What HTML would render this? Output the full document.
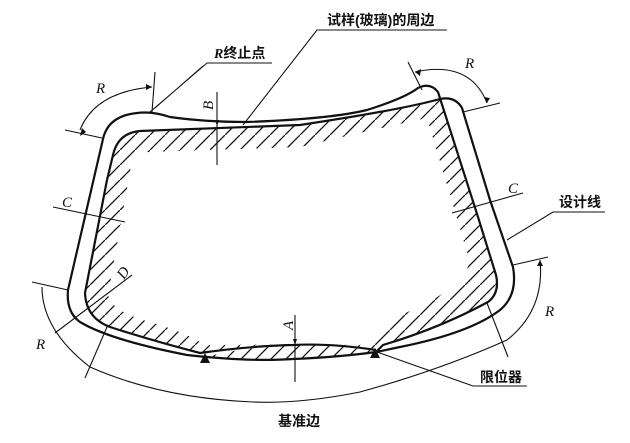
<!DOCTYPE html>
<html><head><meta charset="utf-8"><style>
html,body{margin:0;padding:0;background:#fff;width:630px;height:443px;overflow:hidden}
svg{display:block}
text{font-family:"Liberation Serif","Noto Serif CJK SC",serif;fill:#111}
.cn{font-family:"Liberation Sans","Noto Sans CJK SC",sans-serif;font-size:14px;font-weight:bold}
.it{font-style:italic;font-size:15px}
</style></head><body>
<svg width="630" height="443" viewBox="0 0 630 443">
<defs>
<pattern id="h" patternUnits="userSpaceOnUse" width="15" height="15">
<path d="M-3,18 L18,-3" stroke="#111" stroke-width="1.3"/>
</pattern>
</defs>
<path fill-rule="evenodd" fill="url(#h)" d="M376,350 Q330,343 293,345 Q250,346 200,353 Q150,340 110,327 Q86,318 85,293 L107,180 L113,155 Q118,133 140,131 L300,125 Q400,110 440,99 L478,217 L496,275 Q500,293 488,302 Q440,328 383,345 Z
M372,345 L392,318 Q430,305 462,280 L470,262 L427,118 Q380,128 300,147 L148,152 Q132,154 130,172 L108,295 Q112,312 150,322 Q185,332 205,345 Q290,344 372,345 Z"/>
<path fill="url(#h)" d="M205,357 Q250,346 293,345 Q330,344 376,351 Q340,358 293,359 Q250,361 205,357 Z"/>
<g fill="none" stroke="#111" stroke-width="2.2" stroke-linejoin="round">
<path d="M376,350 Q330,343 293,345 Q250,346 200,353 Q150,340 110,327 Q86,318 85,293 L107,180 L113,155 Q118,133 140,131 L300,125 Q400,110 440,99 Q455,96 462,108 L490,200 L513,267 Q518,295 500,310 Q470,333 400,347 L376,352"/>
<path d="M103,139 Q108,116 137,113 Q152,111 170,117 Q205,122 247,122 Q330,119 367,110 Q405,98 418,88 Q430,82 438,92 L478,217 L496,275 Q500,293 488,302 Q440,328 383,345 L376,352"/>
<path d="M103,139 L68,290 Q66,312 80,322 Q110,340 187,355 Q250,362 293,359 Q340,357 376,352"/>
</g>
<polygon points="205,353 200,363 210,363" fill="#111"/>
<polygon points="375,348 370,358 380,358" fill="#111"/>
<g fill="none" stroke="#111" stroke-width="1.1">
<path d="M65,130 L102,138 M155,72 L152,112"/>
<path d="M80,130 Q95,92 152,87"/>
<path d="M272,63 L207,63 L150,112 M203,66 L155,108"/>
<path d="M447,30 L317,30 L243,125"/>
<path d="M217,92 L217,165"/>
<path d="M408,62 L422,90 M463,112 L500,103"/>
<path d="M415,72 Q470,60 487,103"/>
<path d="M452,213 L523,193"/>
<path d="M605,212 L553,212 L507,240"/>
<path d="M513,265 L548,257"/>
<path d="M487,303 L508,357"/>
<path d="M32,282 L68,290"/>
<path d="M42,287 Q42,330 90,367 Q160,398 253,402 Q300,404 360,392 Q440,370 507,340 Q545,310 540,260"/>
<path d="M527,386 L473,386 L377,352"/>
<path d="M53,207 L125,222"/>
<path d="M55,333 L132,275"/>
<path d="M85,378 L107,327"/>
<path d="M295,315 L295,382"/>
</g>
<g fill="#111">
<polygon points="152,87 146,84 146,90"/>
<polygon points="82,128 80,136 86,132"/>
<polygon points="415,72 421,69 420,76"/>
<polygon points="487,103 484,97 490,98"/>
<polygon points="540,260 537,266 543,266"/>
<polygon points="217,126 215,120 219,120"/>
<polygon points="295,345 293,339 297,339"/>
</g>
<text class="it" x="96" y="93">R</text>
<text class="it" x="465" y="68">R</text>
<text class="it" x="545" y="316">R</text>
<text class="it" x="36" y="349">R</text>
<text class="it" x="62" y="207">C</text>
<text class="it" x="508" y="193">C</text>
<text class="it" transform="translate(124,280) rotate(-55)">D</text>
<text class="it" transform="translate(213,110) rotate(-90)">B</text>
<text class="it" transform="translate(293,330) rotate(-90)">A</text>
<text class="cn" x="214" y="58"><tspan font-style="italic" font-family="Liberation Serif,serif">R</tspan>终止点</text>
<text class="cn" x="327" y="25">试样(玻璃)的周边</text>
<text class="cn" x="559" y="207">设计线</text>
<text class="cn" x="480" y="382">限位器</text>
<text class="cn" x="278" y="426">基准边</text>
</svg>
</body></html>
